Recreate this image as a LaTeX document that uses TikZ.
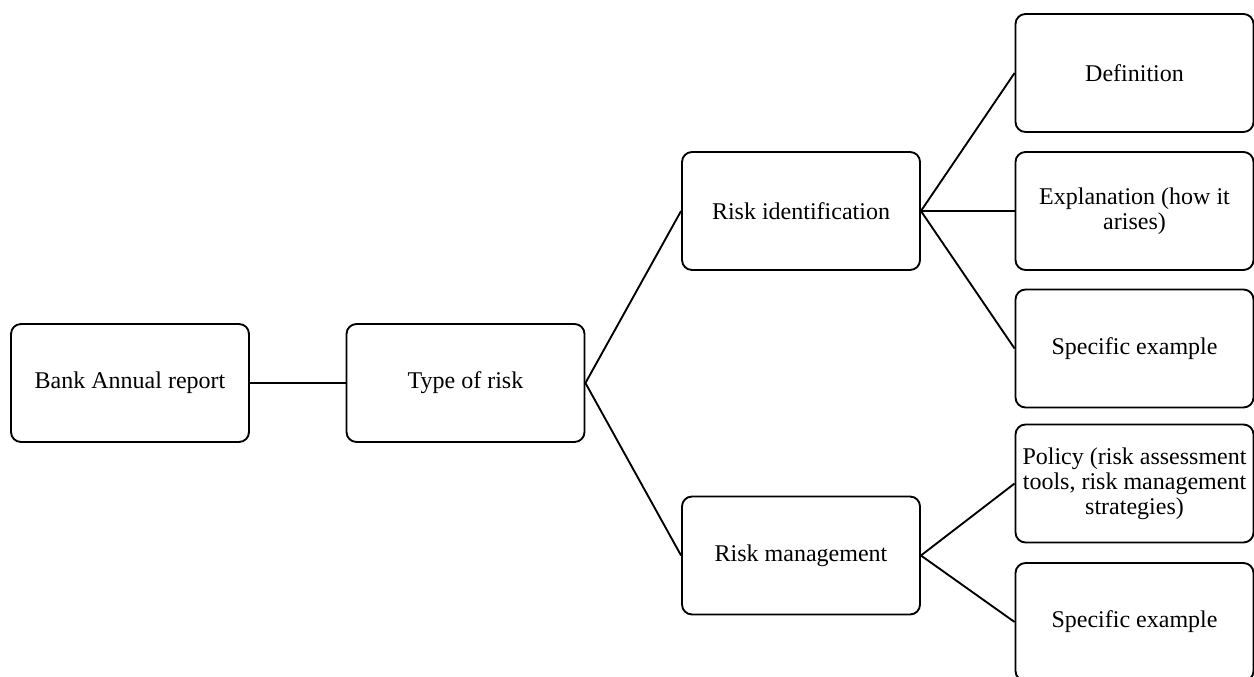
\documentclass[tikz,border=0pt]{standalone}
\usepackage{fontspec}
\setmainfont{Liberation Serif}
\begin{document}
\begin{tikzpicture}[x=0.75pt,y=-0.75pt,
  box/.style={draw=black,line width=1.4pt,rounded corners=7.5pt,rectangle,
    minimum width=178.5pt,minimum height=88.5pt,align=center,
    font=\fontsize{18}{18.8}\selectfont,inner sep=2pt},
  link/.style={draw=black,line width=1.4pt}]
\useasboundingbox (0,0) rectangle (1254,677);
\node[box] (bank) at (130,383) {Bank Annual report};
\node[box] (type) at (465.5,383) {Type of risk};
\node[box] (ri) at (801,211) {Risk identification};
\node[box] (rm) at (801,555.5) {Risk management};
\node[box] (def) at (1134.5,73) {Definition};
\node[box] (exp) at (1134.5,211) {Explanation (how it\\arises)};
\node[box] (se1) at (1134.5,348.5) {Specific example};
\node[box] (pol) at (1134.5,483.5) {Policy (risk assessment\\tools, risk management\\strategies)};
\node[box] (se2) at (1134.5,622) {Specific example};
\draw[link] (bank.east) -- (type.west);
\draw[link] (type.east) -- (ri.west);
\draw[link] (type.east) -- (rm.west);
\draw[link] (ri.east) -- (def.west);
\draw[link] (ri.east) -- (exp.west);
\draw[link] (ri.east) -- (se1.west);
\draw[link] (rm.east) -- (pol.west);
\draw[link] (rm.east) -- (se2.west);
\end{tikzpicture}
\end{document}
